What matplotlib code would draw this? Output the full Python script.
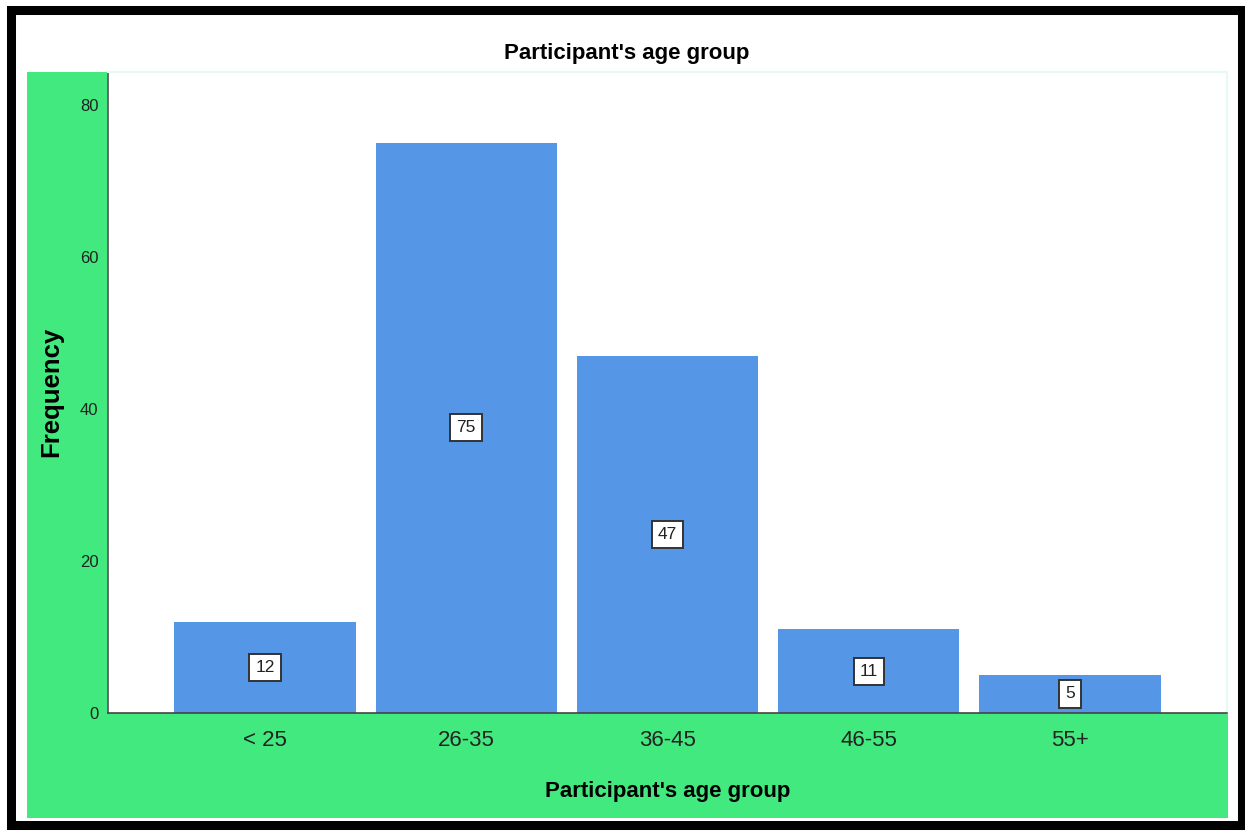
import matplotlib.pyplot as plt
from matplotlib.patches import Rectangle

plt.rcParams['font.family'] = ['Liberation Sans', 'DejaVu Sans']

age_groups = ['< 25', '26-35', '36-45', '46-55', '55+']
counts = [12, 75, 47, 11, 5]
y_ticks = [0, 20, 40, 60, 80]

bar_color = '#5596E6'
panel_green = '#41E97E'

W, H = 1245, 832
fig = plt.figure(figsize=(W / 100, H / 100), dpi=100)
fig.patch.set_facecolor('white')

# green panel behind the axes
fig.patches.append(Rectangle((27 / W, (H - 818) / H), (1228 - 27) / W, (818 - 72) / H,
                             transform=fig.transFigure, facecolor=panel_green,
                             edgecolor='none', zorder=-1))
# black frame round the whole picture
fig.patches.append(Rectangle((11 / W, (H - 825) / H), (1242 - 11) / W, (825 - 9.5) / H,
                             transform=fig.transFigure, facecolor='none',
                             edgecolor='black', linewidth=6.5, zorder=5))

ax = fig.add_axes([108 / W, (H - 713) / H, (1227 - 108) / W, (713 - 72) / H])
ax.set_facecolor('white')

x = range(len(age_groups))
ax.bar(x, counts, width=0.9, color=bar_color, zorder=2)

# value boxes in the middle of each bar
for i, c in enumerate(counts):
    ax.text(i, c / 2, str(c), ha='center', va='center', fontsize=12.5, color='#222222',
            zorder=3,
            bbox=dict(boxstyle='square,pad=0.35', facecolor='white', edgecolor='#333333',
                      linewidth=1.4))

ax.set_xlim(-0.78, 4.78)
ax.set_ylim(0, 84.3)
ax.set_xticks(list(x))
ax.set_xticklabels(age_groups, fontsize=16, color='#222222')
ax.set_yticks(y_ticks)
ax.set_yticklabels([str(t) for t in y_ticks], fontsize=12, color='#222222')
ax.tick_params(axis='x', length=0, pad=12)
ax.tick_params(axis='y', length=0, pad=7)

for side in ['top', 'right']:
    ax.spines[side].set_color('#E6FAF2')
    ax.spines[side].set_linewidth(1.5)
ax.spines['left'].set_color('#555555')
ax.spines['bottom'].set_color('#444444')
ax.spines['left'].set_linewidth(1.2)
ax.spines['bottom'].set_linewidth(1.2)

ax.set_xlabel("Participant's age group", fontsize=16, fontweight='bold', labelpad=22)
fig.text(51 / W, (H - 392) / H, 'Frequency', rotation=90, ha='center', va='center',
         fontsize=18.5, fontweight='bold')
fig.text(627 / W, (H - 54) / H, "Participant's age group", ha='center', va='center',
         fontsize=16, fontweight='bold')

fig.savefig('out.png', dpi=100)
